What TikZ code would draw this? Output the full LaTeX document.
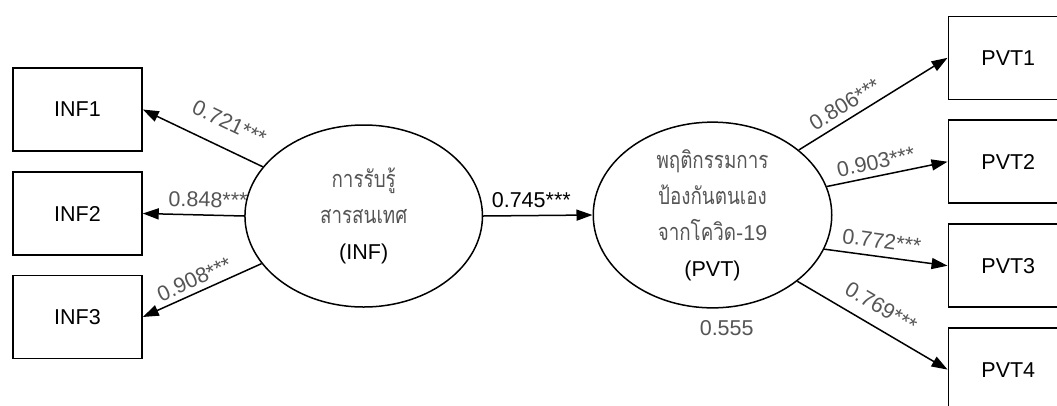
\documentclass[tikz,border=0pt]{standalone}
\usepackage{fontspec}
\setmainfont{Liberation Sans}
\newfontfamily\thaifont[Script=Thai, FakeStretch=0.8]{Loma}
\usetikzlibrary{shapes.geometric,arrows.meta}
\definecolor{lblgray}{HTML}{555555}
\begin{document}
\begin{tikzpicture}[x=1pt,y=-1pt,
  obs/.style={draw, line width=1.5pt, inner sep=0pt, minimum height=83pt,
    font=\fontsize{21.5}{25}\selectfont},
  lat/.style={draw, ellipse, line width=1.5pt, inner sep=0pt, align=center,
    font=\fontsize{21.5}{36}\selectfont},
  thl/.style={},
  arr/.style={line width=1.5pt, -{Triangle[length=16pt,width=11pt]}},
  rarr/.style={line width=1.5pt, {Triangle[length=16pt,width=11pt]}-},
  coef/.style={inner sep=0pt, text=lblgray, font=\fontsize{21.5}{25}\selectfont}]
\newcommand\thtext[1]{{\fontsize{23.5}{36}\thaifont\textcolor{lblgray}{#1}}}
\useasboundingbox (0,0) rectangle (1057,405);
\clip (0,0) rectangle (1057,405);
% indicator boxes
\node[obs, minimum width=129pt] (inf1) at (77.5,109.5) {INF1};
\node[obs, minimum width=129pt] (inf2) at (77.5,213.5) {INF2};
\node[obs, minimum width=129pt] (inf3) at (77.5,317) {INF3};
\node[obs, minimum width=120pt] (pvt1) at (1008.3,57.8) {PVT1};
\node[obs, minimum width=120pt] (pvt2) at (1008.3,161.7) {PVT2};
\node[obs, minimum width=120pt] (pvt3) at (1008.3,265.7) {PVT3};
\node[obs, minimum width=120pt] (pvt4) at (1008.3,369.6) {PVT4};
% latent variables
\node[lat, minimum width=237.5pt, minimum height=182pt] (inf) at (363.7,216)
  {\thtext{การรับรู้}\\\thtext{สารสนเทศ}\\(INF)};
\node[lat, minimum width=238.5pt, minimum height=183.4pt] (pvt) at (712.5,215)
  {\thtext{พฤติกรรมการ}\\\thtext{ป้องกันตนเอง}\\\thtext{จากโควิด}\textcolor{lblgray}{-19}\\(PVT)};
\node[coef] (r2) at (726.7,328) {0.555};
% loadings INF
\draw[rarr] (inf1.east) -- (inf.154) node[coef, sloped, pos=0.63, above=17pt] {0.721***};
\draw[rarr] (inf2.east) -- (inf.west) node[coef, sloped, pos=0.64, above=7pt] {0.848***};
\draw[rarr] (inf3.east) -- (inf.205) node[coef, sloped, pos=0.48, above=5pt] {0.908***};
% structural path
\draw[arr] (inf.east) -- (pvt.west) node[inner sep=0pt, font=\fontsize{21.5}{25}\selectfont, pos=0.44, above=7pt] {0.745***};
% loadings PVT
\draw[arr] (pvt.37) -- (pvt1.west) node[coef, sloped, pos=0.36, above=6.3pt] {0.806***};
\draw[arr] (pvt.14) -- (pvt2.west) node[coef, sloped, pos=0.43, above=5.8pt] {0.903***};
\draw[arr] (pvt.-17) -- (pvt3.west) node[coef, sloped, pos=0.45, above=7.3pt] {0.772***};
\draw[arr] (pvt.-38) -- (pvt4.west) node[coef, sloped, pos=0.49, above=11.8pt] {0.769***};
\end{tikzpicture}
\end{document}
